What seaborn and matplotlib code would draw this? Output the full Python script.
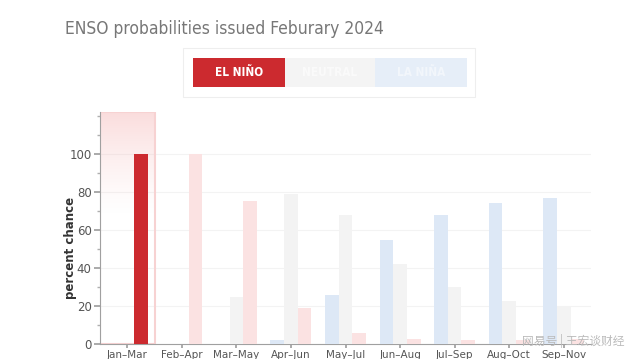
import numpy as np
import pandas as pd
import matplotlib
matplotlib.use("Agg")
import matplotlib.pyplot as plt
import seaborn as sns
from matplotlib.patches import Rectangle
from matplotlib.ticker import MultipleLocator

seasons = ["Jan–Mar", "Feb–Apr", "Mar–May", "Apr–Jun", "May–Jul",
           "Jun–Aug", "Jul–Sep", "Aug–Oct", "Sep–Nov"]
la_nina = [0, 0, 0, 2, 26, 55, 68, 74, 77]
neutral = [0, 0, 25, 79, 68, 42, 30, 23, 20]
el_nino = [100, 100, 75, 19, 6, 3, 2, 2, 3]
phases = ["La Niña", "Neutral", "El Niño"]
title = "ENSO probabilities issued Feburary 2024"
legend_labels = ["EL NIÑO", "NEUTRAL", "LA NIÑA"]

df = pd.DataFrame({
    "season": seasons * 3,
    "phase": ["La Niña"] * 9 + ["Neutral"] * 9 + ["El Niño"] * 9,
    "value": la_nina + neutral + el_nino,
})

sns.set_theme(style="white")
plt.rcParams['font.family'] = ['DejaVu Sans']

fig = plt.figure(figsize=(6.4, 3.59), dpi=100)
ax = fig.add_axes([100 / 640, 14.7 / 359, 491 / 640, 232.3 / 359])

pal = {"La Niña": "#dde8f6", "Neutral": "#f3f3f3", "El Niño": "#fbe2e2"}
sns.barplot(data=df, x="season", y="value", hue="phase", hue_order=phases,
            order=seasons, palette=pal, width=0.75, saturation=1,
            legend=False, ax=ax, zorder=3, linewidth=0, edgecolor="none")

# highlight the first El Niño bar
el_container = ax.containers[2]
el_container[0].set_facecolor("#cc2a2f")

ax.set_ylim(0, 122)
ax.set_xlim(-0.5, 8.5)

# highlight band over first season with gradient
grad = np.linspace(0, 1, 256).reshape(-1, 1)
alpha = np.clip((grad - 0.55) / 0.45, 0, 1) ** 1.3 * 0.42
rgba = np.zeros((256, 1, 4))
rgba[..., 0] = 0.96
rgba[..., 1] = 0.68
rgba[..., 2] = 0.68
rgba[..., 3] = alpha
ax.imshow(rgba, extent=[-0.5, 0.5, 0, 122], origin="lower", aspect="auto", zorder=1)
ax.add_patch(Rectangle((-0.5, 0), 1.0, 122, fill=False, edgecolor="#f7d2d2",
                       linewidth=1.5, zorder=2))

ax.set_yticks([0, 20, 40, 60, 80, 100])
ax.yaxis.set_minor_locator(MultipleLocator(10))
ax.grid(False)
for y in [20, 40, 60, 80, 100]:
    ax.axhline(y, color="#f3f3f3", linewidth=0.8, zorder=0)

for side in ["top", "right"]:
    ax.spines[side].set_visible(False)
for side in ["left", "bottom"]:
    ax.spines[side].set_color("#a0a0a0")
    ax.spines[side].set_linewidth(0.8)

ax.tick_params(axis="y", which="major", left=True, length=4, color="#a0a0a0",
               labelsize=8.5, labelcolor="#555555", pad=2)
ax.tick_params(axis="y", which="minor", left=True, length=2, color="#b0b0b0")
ax.tick_params(axis="x", bottom=True, length=3, color="#a0a0a0",
               labelsize=7.5, labelcolor="#555555", pad=1)
ax.set_xlabel("")
ax.set_ylabel("percent chance", fontsize=8.5, fontweight="bold", color="#333333")
ax.yaxis.set_label_coords(-0.047, 0.415)

# title
fig.text(65 / 640, 1 - 29 / 359, title, fontsize=12.5, color="#777777",
         family=["DejaVu Sans"], fontstretch="condensed",
         va="center", ha="left")

# legend box (buttons)
fig.patches.append(Rectangle((183 / 640, 1 - 97 / 359), 292 / 640, 49 / 359,
                             transform=fig.transFigure, facecolor="white",
                             edgecolor="#eeeeee", linewidth=0.8))
btns = [(193, 285, "#cc2a2f", "white"),
        (285, 375, "#f4f4f4", "#fafafa"),
        (375, 467, "#e6eef8", "#f2f6fb")]
for (x0, x1, fc, tc), lab in zip(btns, legend_labels):
    fig.patches.append(Rectangle((x0 / 640, 1 - 87 / 359), (x1 - x0) / 640, 29 / 359,
                                 transform=fig.transFigure, facecolor=fc,
                                 edgecolor="none"))
    fig.text((x0 + x1) / 2 / 640, 1 - 72.5 / 359, lab, fontsize=8.5, color=tc,
             fontweight="bold", ha="center", va="center",
             family=["DejaVu Sans"], fontstretch="condensed")

# watermark
fig.text(625 / 640, 1 - 341 / 359, "网易号 | 王宏谈财经", fontsize=8.5, color="#bbbbbb",
         ha="right", va="center", family=["Noto Sans CJK SC", "DejaVu Sans"])

fig.savefig("out.png", dpi=100)
